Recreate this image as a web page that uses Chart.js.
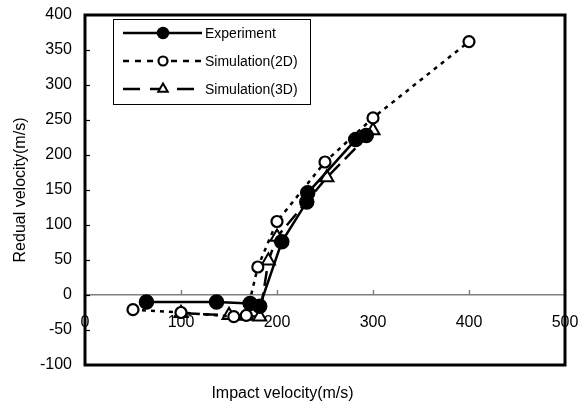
<!DOCTYPE html>
<html>
<head>
<meta charset="utf-8">
<script src="https://cdn.jsdelivr.net/npm/chart.js@4/dist/chart.umd.min.js"></script>
<style>
html,body{margin:0;padding:0;background:#fff;}
#wrap{position:relative;width:581px;height:403px;}
</style>
</head>
<body>
<div id="wrap"><canvas id="c" width="581" height="403"></canvas></div>
<script>
// ---- data ----
const seriesNames = ["Experiment", "Simulation(2D)", "Simulation(3D)"];

const expX = [64, 137, 172, 182, 205, 231, 232, 282, 293];
const expY = [-10, -10, -12, -16, 76, 133, 146, 222, 228];

const sim2dX = [50, 100, 155, 168, 180, 200, 250, 300, 400];
const sim2dY = [-21, -25, -31, -29, 40, 105, 190, 253, 362];

const sim3dX = [100, 150, 168, 182, 191, 200, 252, 300];
const sim3dY = [-26, -29, -30, -31, 49, 83, 168, 235];

const xTickValues = [0, 100, 200, 300, 400, 500];
const yTickValues = [-100, -50, 0, 50, 100, 150, 200, 250, 300, 350, 400];

const xTitle = "Impact velocity(m/s)";
const yTitle = "Redual velocity(m/s)";

const toPts = (xs, ys) => xs.map((x, i) => ({x: x, y: ys[i]}));
const FONT = "'Liberation Sans', Arial, sans-serif";

// frame, inner tick marks, legend
const decor = {
  id: 'decor',
  afterDatasetsDraw(chart) {
    const {ctx, chartArea: a, scales} = chart;
    const xs = scales.x, ys = scales.y;
    const y0 = ys.getPixelForValue(0);
    ctx.save();
    ctx.strokeStyle = '#808080';
    ctx.lineWidth = 1.5;
    xTickValues.forEach(v => {
      if (v <= 0 || v >= 500) return;
      const px = Math.round(xs.getPixelForValue(v)) + 0.5;
      ctx.beginPath(); ctx.moveTo(px, y0); ctx.lineTo(px, y0 - 5); ctx.stroke();
    });
    ctx.strokeStyle = '#000';
    ctx.lineWidth = 1.2;
    yTickValues.forEach(v => {
      if (v <= -100 || v >= 400) return;
      const py = Math.round(ys.getPixelForValue(v)) + 0.5;
      ctx.beginPath(); ctx.moveTo(a.left, py); ctx.lineTo(a.left + 5, py); ctx.stroke();
    });
    ctx.strokeStyle = '#000';
    ctx.lineWidth = 3;
    ctx.strokeRect(a.left, a.top, a.right - a.left, a.bottom - a.top);

    // legend
    const bx = 113, by = 19, bw = 197, bh = 85;
    ctx.fillStyle = '#fff';
    ctx.fillRect(bx, by, bw, bh);
    ctx.strokeStyle = '#000';
    ctx.lineWidth = 1;
    ctx.strokeRect(bx + 0.5, by + 0.5, bw, bh);
    const rows = [33, 61, 89];
    chart.data.datasets.forEach((ds, i) => {
      const ry = rows[i];
      ctx.save();
      ctx.strokeStyle = ds.borderColor;
      ctx.lineWidth = ds.borderWidth;
      ctx.setLineDash(ds.legendDash || []);
      ctx.beginPath(); ctx.moveTo(123, ry); ctx.lineTo(202, ry); ctx.stroke();
      ctx.setLineDash([]);
      ctx.fillStyle = ds.pointBackgroundColor;
      ctx.strokeStyle = ds.pointBorderColor;
      ctx.lineWidth = ds.pointBorderWidth;
      const legendR = ds.pointStyle === 'circle' ? (i === 0 ? 5.5 : 4.5) : 5.5;
      if (Chart.helpers && Chart.helpers.drawPoint) {
        Chart.helpers.drawPoint(ctx, {pointStyle: ds.pointStyle, radius: legendR, borderWidth: ds.pointBorderWidth, rotation: 0}, 163, ry);
      }
      ctx.restore();
      ctx.fillStyle = '#000';
      ctx.font = '14px ' + FONT;
      ctx.textAlign = 'left';
      ctx.textBaseline = 'middle';
      ctx.fillText(seriesNames[i], 205, ry + 1);
    });
    ctx.restore();
  }
};

new Chart(document.getElementById('c'), {
  type: 'scatter',
  data: {
    datasets: [
      {
        label: seriesNames[0],
        data: toPts(expX, expY),
        showLine: true,
        borderColor: '#000', borderWidth: 2.5, borderDash: [], legendDash: [],
        pointStyle: 'circle', pointRadius: 7, pointHoverRadius: 7,
        pointBackgroundColor: '#000', pointBorderColor: '#000', pointBorderWidth: 1.5,
        tension: 0
      },
      {
        label: seriesNames[1],
        data: toPts(sim2dX, sim2dY),
        showLine: true,
        borderColor: '#000', borderWidth: 2.5, borderDash: [4, 5], legendDash: [6, 6],
        pointStyle: 'circle', pointRadius: 5.5, pointHoverRadius: 5.5,
        pointBackgroundColor: '#fff', pointBorderColor: '#000', pointBorderWidth: 2.2,
        tension: 0
      },
      {
        label: seriesNames[2],
        data: toPts(sim3dX, sim3dY),
        showLine: true,
        borderColor: '#000', borderWidth: 2.5, borderDash: [15, 7], legendDash: [17, 10],
        pointStyle: 'triangle', pointRadius: 7.5, pointHoverRadius: 7.5,
        pointBackgroundColor: '#fff', pointBorderColor: '#000', pointBorderWidth: 2,
        tension: 0
      }
    ]
  },
  options: {
    responsive: false,
    animation: false,
    events: [],
    layout: {padding: {left: 0, top: 15, right: 16, bottom: 0}},
    plugins: {
      legend: {display: false},
      tooltip: {enabled: false},
      title: {
        display: true, position: 'bottom', text: xTitle, color: '#000',
        font: {family: FONT, size: 16, weight: 'normal'},
        padding: {top: 18.8, bottom: 0}
      }
    },
    scales: {
      x: {
        type: 'linear', min: 0, max: 500,
        position: {y: 0},
        afterBuildTicks: (s) => { s.ticks = xTickValues.map(v => ({value: v})); },
        afterFit: (s) => { s.paddingLeft = 0; s.paddingRight = 0; s.paddingTop = 0; s.paddingBottom = 0; },
        ticks: {color: '#000', font: {family: FONT, size: 16}, padding: 18, maxRotation: 0, autoSkip: false},
        grid: {display: true, drawOnChartArea: false, drawTicks: false},
        border: {display: true, color: '#808080', width: 1.5}
      },
      y: {
        type: 'linear', min: -100, max: 400,
        position: 'left',
        afterBuildTicks: (s) => { s.ticks = yTickValues.map(v => ({value: v})); },
        afterFit: (s) => { s.width = 85; s.paddingTop = 0; s.paddingBottom = 0; },
        ticks: {color: '#000', font: {family: FONT, size: 16}, padding: 13, autoSkip: false},
        grid: {display: false, drawTicks: false},
        border: {display: false},
        title: {display: true, text: yTitle, color: '#000', font: {family: FONT, size: 16}, padding: {top: 11, bottom: 0}}
      }
    }
  },
  plugins: [decor]
});
</script>
</body>
</html>
